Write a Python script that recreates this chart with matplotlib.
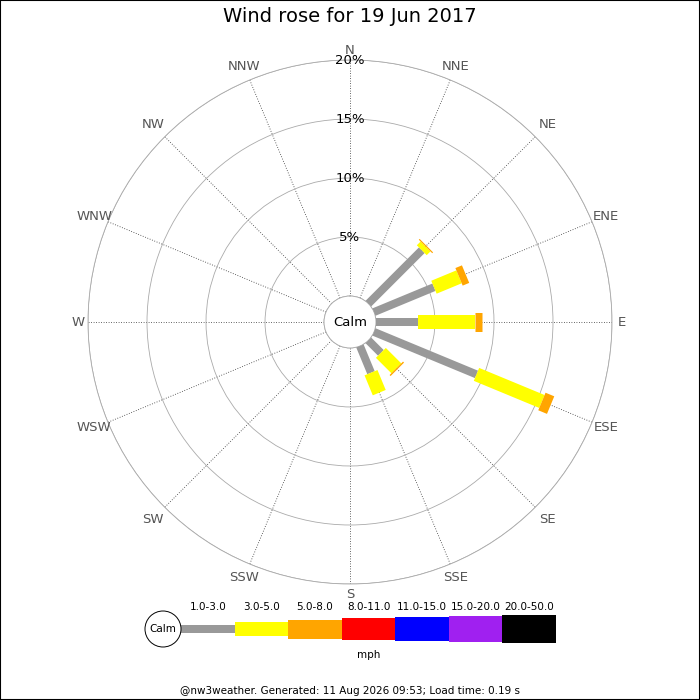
import matplotlib.pyplot as plt
import numpy as np
from matplotlib.patches import Rectangle, Ellipse

# Wind rose data (percent of time per direction and speed bin)
directions = ['N', 'NNE', 'NE', 'ENE', 'E', 'ESE', 'SE', 'SSE',
              'S', 'SSW', 'SW', 'WSW', 'W', 'WNW', 'NW', 'NNW']
speed_bins = ['1.0-3.0', '3.0-5.0', '5.0-8.0', '8.0-11.0',
              '11.0-15.0', '15.0-20.0', '20.0-50.0']
bin_colors = ['#999999', '#ffff00', '#ffa500', '#ff0000',
              '#0000ff', '#a020f0', '#000000']
bin_widths_px = [8, 14, 19, 22, 24, 26, 28]

freq_1_3 = [0, 0, 6.4, 5.5, 3.6, 9.4, 1.5, 2.45, 0, 0, 0, 0, 0, 0, 0, 0]
freq_3_5 = [0, 0, 0.45, 2.3, 4.8, 6.0, 1.85, 1.83, 0, 0, 0, 0, 0, 0, 0, 0]
freq_5_8 = [0, 0, 0.1, 0.6, 0.6, 0.8, 0.12, 0, 0, 0, 0, 0, 0, 0, 0, 0]
freq_rest = [0] * 16
freqs = [freq_1_3, freq_3_5, freq_5_8, freq_rest, freq_rest, freq_rest, freq_rest]

r_ticks = [5, 10, 15, 20]
title = 'Wind rose for 19 Jun 2017'
footer = '@nw3weather. Generated: 11 Aug 2026 09:53; Load time: 0.19 s'

# Figure layout
fig = plt.figure(figsize=(7, 7), dpi=100)
W = H = 700.0
cx, cy, R = 350, 322, 262
ax = fig.add_axes([(cx - R) / W, (H - cy - R) / H, 2 * R / W, 2 * R / H],
                  projection='polar')
ax.set_theta_zero_location('N')
ax.set_theta_direction(-1)
r_origin = -2.2
ax.set_rorigin(r_origin)
ax.set_rlim(0, 20)

angles = np.deg2rad(np.arange(16) * 22.5)
ax.set_xticks(angles)
ax.set_xticklabels([])
ax.set_yticks([0] + r_ticks)
ax.set_yticklabels([])
ax.tick_params(length=0)
ax.xaxis.grid(True, color='#333333', linestyle=(0, (1, 2)), linewidth=0.6)
ax.yaxis.grid(True, color='#aaaaaa', linestyle='-', linewidth=0.6)
for sp in ax.spines.values():
    sp.set_color('#aaaaaa')
    sp.set_linewidth(0.6)

# Bars as thick butt-capped lines stacked per speed bin
px2pt = 72.0 / 100
for i, th in enumerate(angles):
    base = 0.0
    for b in range(len(speed_bins)):
        v = freqs[b][i]
        if v > 0:
            ax.plot([th, th], [base, base + v], color=bin_colors[b],
                    linewidth=bin_widths_px[b] * px2pt, solid_capstyle='butt',
                    zorder=3)
        base += v

# Direction labels
scale = R / (20 - r_origin)
for th, name in zip(angles, directions):
    rpx = 272 + 7 * abs(np.sin(2 * th))
    ax.text(th, rpx / scale + r_origin, name, ha='center', va='center',
            fontsize=9.5, color='#555555', clip_on=False)

# Percent labels on the N spoke
for rt in r_ticks:
    ax.text(0, rt, f'{rt}%', ha='center', va='center', fontsize=9.5,
            color='black', zorder=4)

ax.text(0.5, 0.5, 'Calm', transform=ax.transAxes, ha='center', va='center',
        fontsize=9.5)

fig.text(0.5, 1 - 17 / H, title, ha='center', va='center', fontsize=14)

# Legend
leg_ax = fig.add_axes([181 / W, (H - 644) / H, 375 / W, 30 / H])
leg_ax.set_xlim(0, len(speed_bins))
leg_ax.set_ylim(-15, 15)
leg_ax.axis('off')
for b, (lab, col, h) in enumerate(zip(speed_bins, bin_colors, bin_widths_px)):
    leg_ax.bar(b + 0.5, h, bottom=-h / 2, width=1.0, color=col)
    leg_ax.text(b + 0.5, 22, lab, ha='center', va='center', fontsize=7.5,
                clip_on=False)
unit = 375 / 7.0
leg_ax.add_patch(Ellipse(((163 - 181) / unit, 0), 36 / unit, 36,
                         facecolor='white', edgecolor='black', linewidth=0.7,
                         clip_on=False, zorder=5))
leg_ax.text((163 - 181) / unit, 0, 'Calm', ha='center', va='center',
            fontsize=7.5, zorder=6, clip_on=False)
leg_ax.text(3.5, -26, 'mph', ha='center', va='center', fontsize=7.5,
            clip_on=False)

fig.text(0.5, 1 - 691 / H, footer, ha='center', va='center', fontsize=7.5)

# Image border
fig.patches.append(Rectangle((0, 0), 1, 1, transform=fig.transFigure,
                             fill=False, edgecolor='black', linewidth=1.5))

plt.savefig('out.png', dpi=100)
